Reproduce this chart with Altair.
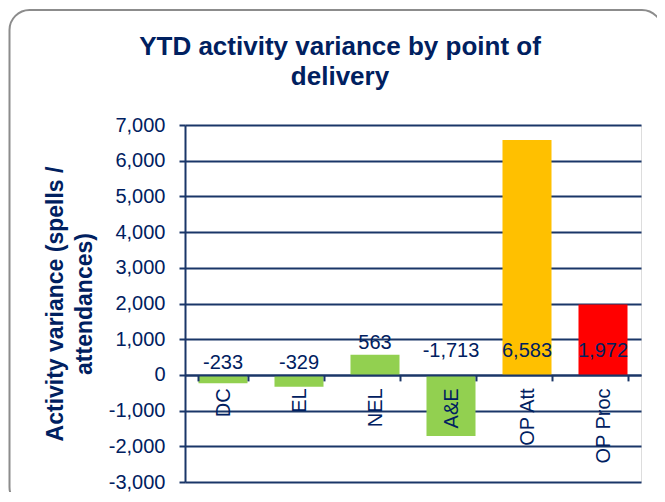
import altair as alt
import pandas as pd

categories = ["DC", "EL", "NEL", "A&E", "OP Att", "OP Proc"]
values = [-233, -329, 563, -1713, 6583, 1972]
colors = ["#92D050", "#92D050", "#92D050", "#92D050", "#FFC000", "#FF0000"]
y_ticks = [-3000, -2000, -1000, 0, 1000, 2000, 3000, 4000, 5000, 6000, 7000]
title_line1 = "YTD activity variance by point of"
title_line2 = "delivery"
y_title_lines = ["Activity variance (spells /", "attendances)"]

df = pd.DataFrame({"pod": categories, "value": values, "color": colors})

NAVY = "#002060"
LINE = "#1A3668"
FONT = "Liberation Sans"

W, H = 456, 357

x_axis = alt.Axis(
    title=None, labelAngle=270, labelAlign="right", labelBaseline="middle",
    labelFontSize=20, labelFont=FONT, labelColor=NAVY, labelPadding=7,
    domainColor=LINE, domainWidth=2, tickColor=LINE, tickWidth=2, tickSize=6,
    tickBand="extent", offset=-107.1, zindex=1, grid=False,
)
x_enc = alt.X("pod:N", sort=categories,
              scale=alt.Scale(paddingInner=0.355, paddingOuter=0.1775),
              axis=x_axis)

y_axis = alt.Axis(
    values=y_ticks, format=",d", title=y_title_lines,
    titleFont=FONT, titleFontSize=23, titleFontWeight="bold", titleColor=NAVY,
    titleX=-118, titleY=H / 2, titleBaseline="bottom", titleLineHeight=29,
    titleAngle=270, titleAlign="center",
    labelFont=FONT, labelFontSize=20, labelColor=NAVY, labelPadding=14,
    domainColor=LINE, domainWidth=2, tickColor=LINE, tickWidth=2, tickSize=6,
    gridColor=LINE, gridWidth=2, grid=True,
)
y_scale = alt.Scale(domain=[-3000, 7000], nice=False, zero=False)

one = pd.DataFrame({"k": [0]})

border = alt.Chart(one).mark_rect(
    fill="transparent", stroke="#8C8C8C", strokeWidth=2, cornerRadius=20
).encode(
    x=alt.value(-175.5), x2=alt.value(477), y=alt.value(-115), y2=alt.value(382)
)

title1 = alt.Chart(one).mark_text(
    font=FONT, fontSize=26, fontWeight="bold", color=NAVY,
    align="center", baseline="alphabetic"
).encode(x=alt.value(155), y=alt.value(-70), text=alt.value(title_line1))

title2 = alt.Chart(one).mark_text(
    font=FONT, fontSize=26, fontWeight="bold", color=NAVY,
    align="center", baseline="alphabetic"
).encode(x=alt.value(155), y=alt.value(-40), text=alt.value(title_line2))

bars = alt.Chart(df).mark_bar().encode(
    x=x_enc,
    y=alt.Y("value:Q", scale=y_scale, axis=y_axis),
    color=alt.Color("color:N", scale=None),
)

labels = alt.Chart(df).transform_calculate(
    label_y="abs(datum.value) > 1000 ? 340 : max(datum.value, 0)"
).mark_text(
    font=FONT, fontSize=20, color=NAVY, baseline="alphabetic", dy=-6
).encode(
    x=x_enc,
    y=alt.Y("label_y:Q", scale=y_scale, axis=y_axis),
    text=alt.Text("value:Q", format=","),
)

chart = alt.layer(border, title1, title2, bars, labels).properties(
    width=W, height=H,
    autosize=alt.AutoSizeParams(type="none"),
    padding={"left": 177, "top": 117, "right": 16, "bottom": 10},
    background="white",
).configure_view(stroke=None).configure(
    locale={"number": {"decimal": ".", "thousands": ",", "grouping": [3],
                       "currency": ["$", ""], "minus": "-"}}
)

chart.save("out.html", embed_options={"renderer": "svg", "actions": False})
